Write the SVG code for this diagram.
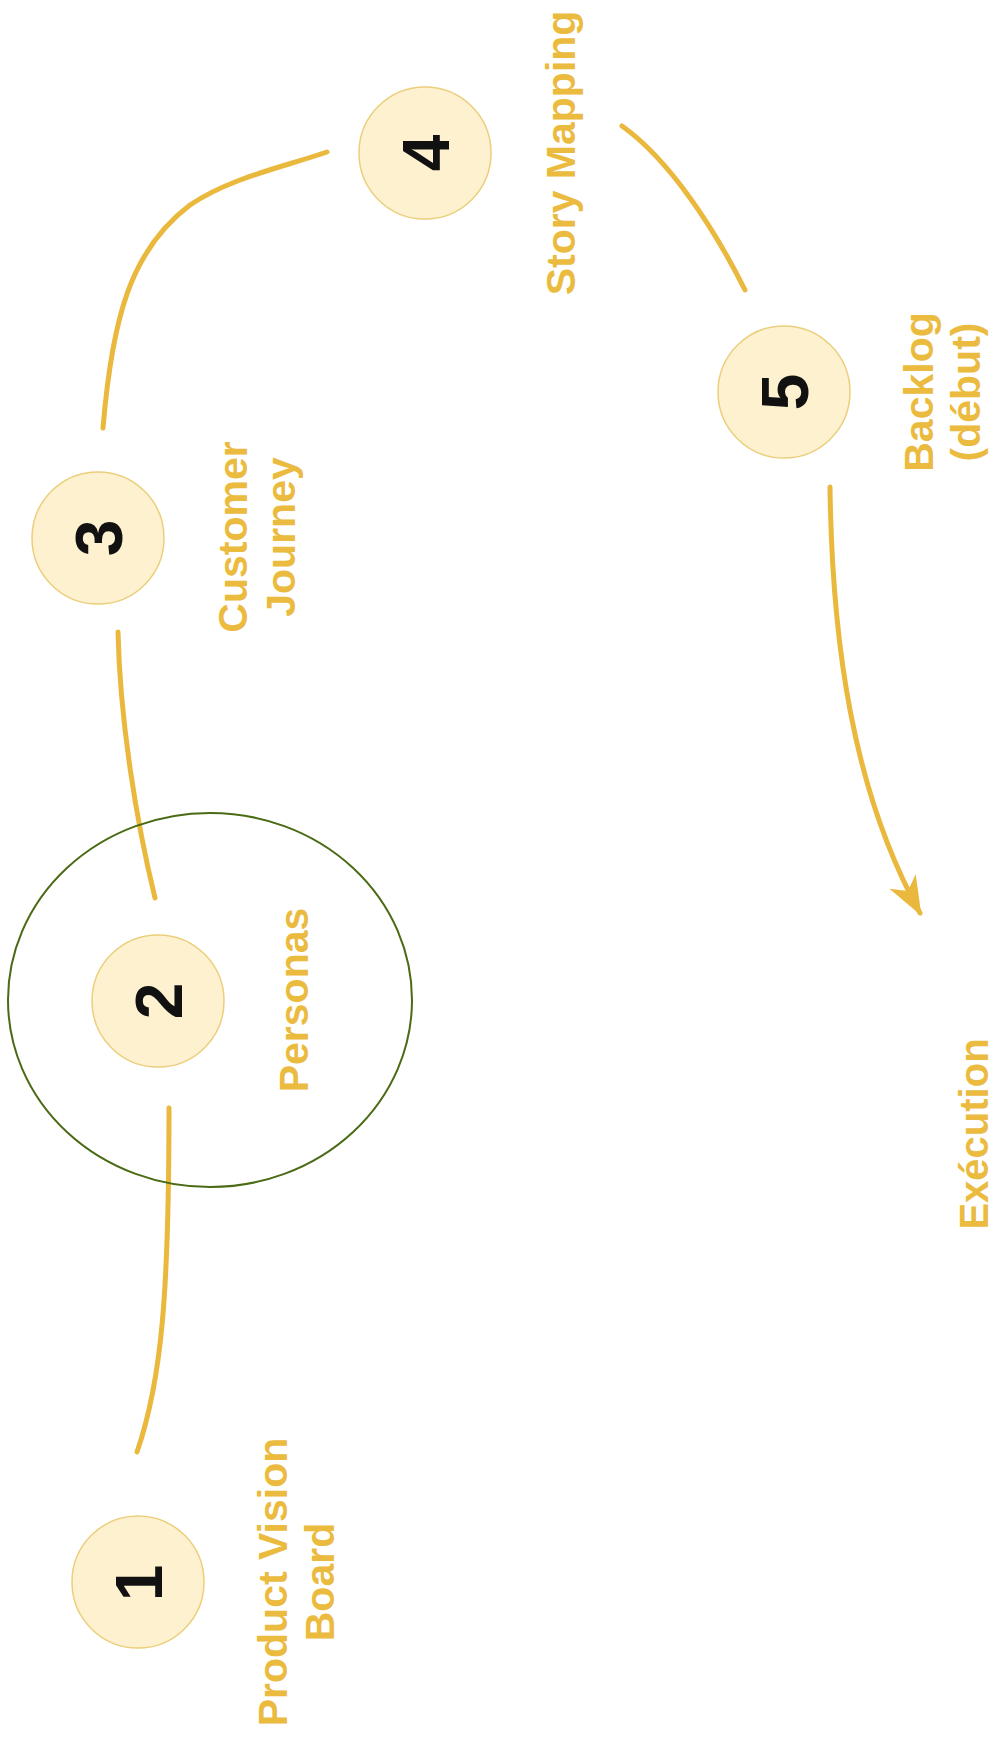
<svg xmlns="http://www.w3.org/2000/svg" width="997" height="1743" viewBox="0 0 997 1743">
<style>
.step{fill:#FEF1D0;stroke:#EBCF7C;stroke-width:1.5}
.num{font-family:"Liberation Sans",Arial,sans-serif;font-weight:bold;font-size:66px;fill:#111;text-anchor:middle}
.lbl{font-family:"Liberation Sans",Arial,sans-serif;font-weight:bold;font-size:41px;fill:#EBBB3F;text-anchor:middle}
.conn{fill:none;stroke:#E9B83C;stroke-width:5;stroke-linecap:round}
</style>
<defs>
<marker id="arr" markerUnits="userSpaceOnUse" markerWidth="50" markerHeight="40" viewBox="-40 -20 44 40" refX="0" refY="0" orient="auto">
<path d="M3,0 L-36,-15 L-25,0 L-36,15 Z" fill="#E9B83C"/>
</marker>
</defs>
<rect width="997" height="1743" fill="#fff"/>
<g id="connectors">
<path class="conn" d="M169,1108 C169,1290 162,1380 137,1452"/>
<path class="conn" d="M118,632 C120,720 136,820 155,898"/>
<path class="conn" d="M103,428 C112,320 130,250 190,205 C230,178 280,168 327,152"/>
<path class="conn" d="M622,126 C670,160 715,230 745,290"/>
<path class="conn" d="M830,487 C832,640 852,790 920,913" marker-end="url(#arr)"/>
</g>
<g id="highlight">
<ellipse cx="210" cy="1000" rx="202" ry="187" fill="none" stroke="#4B6A14" stroke-width="2"/>
</g>
<g id="node1">
<circle class="step" cx="138" cy="1582" r="66"/>
<text class="num" transform="translate(162,1583) rotate(-90)">1</text>
<text class="lbl" transform="translate(287,1582) rotate(-90)"><tspan x="0" y="0">Product Vision</tspan><tspan x="0" y="47">Board</tspan></text>
</g>
<g id="node2">
<circle class="step" cx="158" cy="1001" r="66"/>
<text class="num" transform="translate(182,1001) rotate(-90)">2</text>
<text class="lbl" transform="translate(308,1000) rotate(-90)">Personas</text>
</g>
<g id="node3">
<circle class="step" cx="98" cy="538" r="66"/>
<text class="num" transform="translate(122,538) rotate(-90)">3</text>
<text class="lbl" transform="translate(247,537) rotate(-90)"><tspan x="0" y="0">Customer</tspan><tspan x="0" y="48">Journey</tspan></text>
</g>
<g id="node4">
<circle class="step" cx="425" cy="153" r="66"/>
<text class="num" transform="translate(449,153) rotate(-90)">4</text>
<text class="lbl" transform="translate(575,153) rotate(-90)">Story Mapping</text>
</g>
<g id="node5">
<circle class="step" cx="784" cy="392" r="66"/>
<text class="num" transform="translate(808,392) rotate(-90)">5</text>
<text class="lbl" transform="translate(933,392) rotate(-90)"><tspan x="0" y="0">Backlog</tspan><tspan x="0" y="47">(début)</tspan></text>
</g>
<g id="node6">
<text class="lbl" style="font-size:40px" transform="translate(988,1134) rotate(-90)">Exécution</text>
</g>
</svg>
